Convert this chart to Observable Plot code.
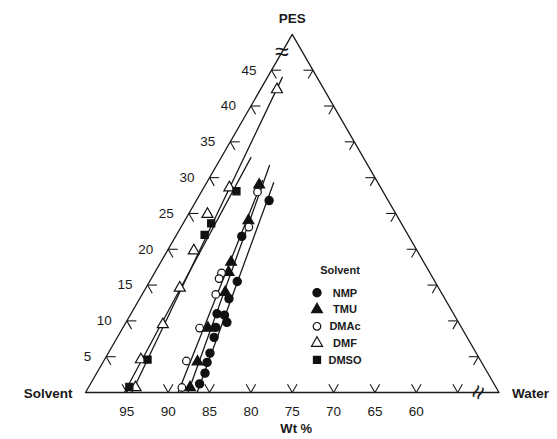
<!DOCTYPE html>
<html>
<head>
<meta charset="utf-8">
<script src="https://cdn.jsdelivr.net/npm/d3@7"></script>
<script src="https://cdn.jsdelivr.net/npm/@observablehq/plot@0.6"></script>
<style>
  body { margin: 0; background: #fff; }
  #chart { width: 557px; height: 439px; }
</style>
</head>
<body>
<div id="chart"></div>
<script>
// ---- Data (wt %) ----
const solvents = ["NMP", "TMU", "DMAc", "DMF", "DMSO"];

const nmpPES     = [26.8, 21.8, 15.5, 13.1, 11.0, 10.8, 9.8, 9.1, 7.7, 5.5, 4.2, 2.7, 1.2];
const nmpSolvent = [64.4, 70.2, 73.9, 76.1, 78.6, 77.8, 78.0, 79.7, 80.6, 82.2, 83.2, 84.2, 85.6];

const tmuPES     = [29.0, 24.0, 18.2, 16.8, 14.0, 9.0, 4.3, 0.7];
const tmuSolvent = [64.5, 68.3, 73.3, 74.3, 76.1, 80.7, 84.3, 87.0];

const dmacPES     = [28.0, 23.1, 16.7, 15.9, 13.7, 9.0, 4.4, 0.7];
const dmacSolvent = [65.2, 68.7, 75.2, 75.9, 77.4, 81.7, 85.6, 88.0];

const dmfPES     = [42.3, 28.6, 24.9, 19.8, 14.6, 9.5, 4.6, 0.7];
const dmfSolvent = [55.7, 68.3, 72.8, 77.0, 81.3, 85.9, 91.0, 93.6];

const dmsoPES     = [28.1, 23.6, 22.0, 4.6, 0.8];
const dmsoSolvent = [67.7, 73.0, 74.6, 90.2, 94.3];

// fitted lines: [start, end]
const nmpFitPES  = [0, 29.3],  nmpFitSolvent  = [86.5, 62.6];
const tmuFitPES  = [0, 31.7],  tmuFitSolvent  = [87.6, 61.9];
const dmacFitPES = [0, 29.6],  dmacFitSolvent = [88.8, 63.8];
const dmfFitPES  = [0, 44.0],  dmfFitSolvent  = [94.4, 54.2];
const dmsoFitPES = [0, 32.8],  dmsoFitSolvent = [95.3, 63.6];

// axes
const pesTicks = [5, 10, 15, 20, 25, 30, 35, 40, 45];
const pesTickLabels = [5, 10, 15, 20, 25, 30, 35, 40, 45];
const solventTicks = [95, 90, 85, 80, 75, 70, 65, 60, 55];
const solventTickLabels = [95, 90, 85, 80, 75, 70, 65, 60];
const rightTicks = [5, 10, 15, 20, 25, 30, 35, 40, 45];
const minSolvent = 50;      // truncated diagram: solvent from 100 down to 50
const breakSolvent = 52.5;  // position of the axis-break marks

// ---- ternary projection ----
const X = (p, s) => 100 - s - p / 2;
const Y = (p) => p * Math.sqrt(3) / 2;

const series = [
  {name: "NMP",  pes: nmpPES,  solvent: nmpSolvent,  fitPES: nmpFitPES,  fitSolvent: nmpFitSolvent},
  {name: "TMU",  pes: tmuPES,  solvent: tmuSolvent,  fitPES: tmuFitPES,  fitSolvent: tmuFitSolvent},
  {name: "DMAc", pes: dmacPES, solvent: dmacSolvent, fitPES: dmacFitPES, fitSolvent: dmacFitSolvent},
  {name: "DMF",  pes: dmfPES,  solvent: dmfSolvent,  fitPES: dmfFitPES,  fitSolvent: dmfFitSolvent},
  {name: "DMSO", pes: dmsoPES, solvent: dmsoSolvent, fitPES: dmsoFitPES, fitSolvent: dmsoFitSolvent}
];
const styleOf = {
  NMP:  {symbol: "circle",   fill: "#111", stroke: "#111", r: 4.1},
  TMU:  {symbol: "triangle", fill: "#111", stroke: "#111", r: 4.0},
  DMAc: {symbol: "circle",   fill: "#fff", stroke: "#111", r: 3.8},
  DMF:  {symbol: "triangle", fill: "#fff", stroke: "#111", r: 4.1},
  DMSO: {symbol: "square",   fill: "#111", stroke: "#111", r: 4.0}
};

const INK = "#1a1a1a";
const T = 1.15; // tick arm length (wt %)

const frame = [
  {p: 0, s: 100},
  {p: 0, s: minSolvent},
  {p: 100 - minSolvent, s: minSolvent},
  {p: 0, s: 100}
];

const tickSegs = [
  ...pesTicks.flatMap(v => [
    {p1: v, s1: 100 - v, p2: v, s2: 100 - v - T},
    {p1: v, s1: 100 - v, p2: v - T, s2: 100 - v}
  ]),
  ...rightTicks.flatMap(v => [
    {p1: v, s1: minSolvent, p2: v, s2: minSolvent + T},
    {p1: v, s1: minSolvent, p2: v - T, s2: minSolvent + T}
  ]),
  ...solventTicks.flatMap(v => [
    {p1: 0, s1: v, p2: T, s2: v},
    {p1: 0, s1: v, p2: T, s2: v - T}
  ])
];

const apex = {p: 100 - minSolvent, s: minSolvent};
const solventCorner = {p: 0, s: 100};
const waterCorner = {p: 0, s: minSolvent};

const marks = [
  Plot.line(frame, {x: d => X(d.p, d.s), y: d => Y(d.p), stroke: INK, strokeWidth: 1.3}),
  Plot.link(tickSegs, {x1: d => X(d.p1, d.s1), y1: d => Y(d.p1), x2: d => X(d.p2, d.s2), y2: d => Y(d.p2), stroke: INK, strokeWidth: 1.1}),
  // break marks
  Plot.text([{p: 100 - breakSolvent, s: breakSolvent}], {x: d => X(d.p, d.s), y: d => Y(d.p), text: () => "≈", fontSize: 25, fill: INK}),
  Plot.text([{p: 0, s: breakSolvent}], {x: d => X(d.p, d.s), y: d => Y(d.p), text: () => "≈", fontSize: 25, rotate: -65, fill: INK}),
  // tick labels
  Plot.text(pesTickLabels, {x: v => X(v, 100 - v), y: v => Y(v), text: v => String(v), textAnchor: "end", dx: -15, fontSize: 13.5, fill: INK}),
  Plot.text(solventTickLabels, {x: v => X(0, v), y: () => 0, text: v => String(v), dy: 19, fontSize: 13.5, fill: INK}),
  // corner labels
  Plot.text([apex], {x: d => X(d.p, d.s), y: d => Y(d.p), text: () => "PES", dy: -16, fontSize: 13.5, fontWeight: "bold", fill: INK}),
  Plot.text([solventCorner], {x: d => X(d.p, d.s), y: d => Y(d.p), text: () => "Solvent", textAnchor: "end", dx: -13, dy: 1, fontSize: 13.5, fontWeight: "bold", fill: INK}),
  Plot.text([waterCorner], {x: d => X(d.p, d.s), y: d => Y(d.p), text: () => "Water", textAnchor: "start", dx: 13, dy: 1, fontSize: 13.5, fontWeight: "bold", fill: INK}),
  Plot.text(["Wt %"], {frameAnchor: "bottom", text: d => d, dy: 40, dx: 4, fontSize: 13, fontWeight: "bold", fill: INK})
];

for (const s of series) {
  const fit = s.fitPES.map((p, i) => ({p, s: s.fitSolvent[i]}));
  marks.push(Plot.line(fit, {x: d => X(d.p, d.s), y: d => Y(d.p), stroke: INK, strokeWidth: 1.3}));
}
for (const s of series) {
  const st = styleOf[s.name];
  const pts = s.pes.map((p, i) => ({p, s: s.solvent[i]}));
  marks.push(Plot.dot(pts, {x: d => X(d.p, d.s), y: d => Y(d.p), symbol: st.symbol, r: st.r, fill: st.fill, stroke: st.stroke, strokeWidth: 1.2}));
}

const chart = Plot.plot({
  width: 557,
  height: 439,
  marginLeft: 85,
  marginRight: 58.5,
  marginTop: 33.9,
  marginBottom: 47,
  x: {domain: [0, 100 - minSolvent], axis: null},
  y: {domain: [0, Y(100 - minSolvent)], axis: null},
  style: {fontFamily: "'Liberation Sans', Arial, sans-serif", background: "#fff", color: INK},
  marks
});

// legend (vertical, inside the plot)
const svg = d3.select(chart);
const lg = svg.append("g").attr("transform", "translate(317,270)")
  .style("font-family", "'Liberation Sans', Arial, sans-serif").style("font-weight", "bold");
lg.append("text").attr("x", 23).attr("y", 0).attr("dy", "0.35em").attr("text-anchor", "middle")
  .attr("font-size", 11).attr("fill", INK).text("Solvent");
const symMap = {circle: d3.symbolCircle, triangle: d3.symbolTriangle, square: d3.symbolSquare};
solvents.forEach((name, i) => {
  const st = styleOf[name];
  const row = lg.append("g").attr("transform", `translate(0,${22.7 + i * 16.8})`);
  row.append("path").attr("d", d3.symbol(symMap[st.symbol], Math.PI * st.r * st.r)())
    .attr("fill", st.fill).attr("stroke", st.stroke).attr("stroke-width", 1.2);
  row.append("text").attr("x", 28).attr("dy", "0.35em").attr("font-size", 11).attr("fill", INK).text(name);
});

document.getElementById("chart").appendChild(chart);
</script>
</body>
</html>
